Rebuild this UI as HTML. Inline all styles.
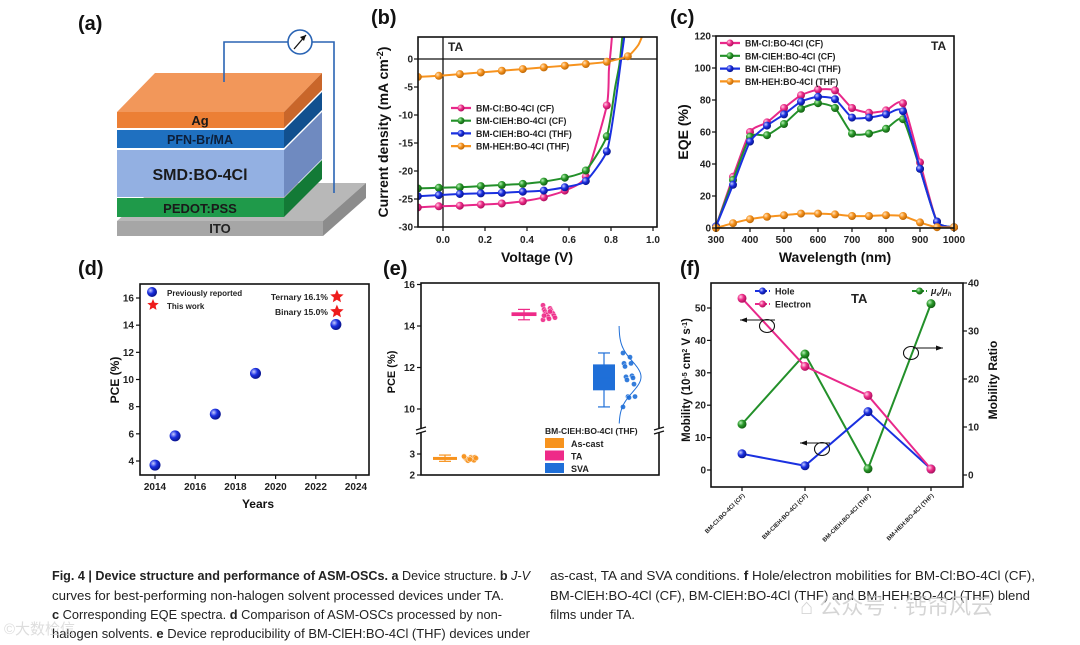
<!DOCTYPE html>
<html><head><meta charset="utf-8"><style>
html,body{margin:0;padding:0;background:#fff}
svg{display:block;font-family:"Liberation Sans","Noto Sans CJK SC",sans-serif}
.t{font-weight:bold;fill:#222}
.ax{font-weight:bold;fill:#111}
.pl{font-weight:bold;fill:#111}
.cap{font-size:12.6px;fill:#222;font-family:"Liberation Sans Narrow","Liberation Sans",sans-serif}
</style></head><body>
<svg id="fig" width="1080" height="645" viewBox="0 0 1080 645" xmlns="http://www.w3.org/2000/svg">
<defs>
<radialGradient id="g-pink" cx="35%" cy="35%" r="65%"><stop offset="0" stop-color="#ffd0e6"/><stop offset="0.5" stop-color="#ee2e8a"/><stop offset="1" stop-color="#b0105e"/></radialGradient>
<radialGradient id="g-green" cx="35%" cy="35%" r="65%"><stop offset="0" stop-color="#b8f0b8"/><stop offset="0.5" stop-color="#2a9a2a"/><stop offset="1" stop-color="#136013"/></radialGradient>
<radialGradient id="g-blue" cx="35%" cy="35%" r="65%"><stop offset="0" stop-color="#c8ccff"/><stop offset="0.5" stop-color="#1a2fe0"/><stop offset="1" stop-color="#0a1590"/></radialGradient>
<radialGradient id="g-orange" cx="35%" cy="35%" r="65%"><stop offset="0" stop-color="#ffe4bf"/><stop offset="0.5" stop-color="#f7931e"/><stop offset="1" stop-color="#c06a08"/></radialGradient>
</defs>

<!-- panel a -->
<g>
<text class="pl" font-size="20" x="78" y="30">(a)</text>
<polygon points="117,221 323,221 366,183 160,183" fill="#b8b8b8"/>
<polygon points="323,221 366,183 366,198 323,236" fill="#8c8c8c"/>
<rect x="117" y="221" width="206" height="15" fill="#a6a6a6"/>
<text x="220" y="233" text-anchor="middle" font-weight="bold" font-size="13" fill="#222">ITO</text>
<polygon points="284,198 322,160 322,179 284,217" fill="#137a36"/>
<rect x="117" y="198" width="167" height="19" fill="#1f9a4a"/>
<text x="200" y="213" text-anchor="middle" font-weight="bold" font-size="13" fill="#1a1a1a">PEDOT:PSS</text>
<polygon points="284,150 322,112 322,159 284,197" fill="#6f8ac0"/>
<rect x="117" y="150" width="167" height="47" fill="#93b0e2"/>
<text x="200" y="180" text-anchor="middle" font-weight="bold" font-size="16" fill="#1a1a1a">SMD:BO-4Cl</text>
<polygon points="284,130 322,92 322,110 284,148" fill="#11508f"/>
<rect x="117" y="130" width="167" height="18" fill="#1f70c0"/>
<text x="200" y="144" text-anchor="middle" font-weight="bold" font-size="12.5" fill="#0d1f3a">PFN-Br/MA</text>
<polygon points="117,112 284,112 322,73 155,73" fill="#f2975a"/>
<polygon points="284,112 322,73 322,90 284,128" fill="#c9662a"/>
<rect x="117" y="112" width="167" height="16" fill="#ec7f35"/>
<text x="200" y="125" text-anchor="middle" font-weight="bold" font-size="13" fill="#1a1a1a">Ag</text>
<polyline points="224,82 224,42 288,42" fill="none" stroke="#2a64b4" stroke-width="1.6"/>
<polyline points="312,42 334,42 334,193" fill="none" stroke="#2a64b4" stroke-width="1.6"/>
<circle cx="300" cy="42" r="12" fill="#fff" stroke="#2a64b4" stroke-width="1.6"/>
<line x1="294" y1="49" x2="306" y2="35" stroke="#111" stroke-width="1.3"/>
<polygon points="306,35 300,37 304,41" fill="#111"/>
</g>

<g id="pb"></g>
<g id="pc"></g>
<g id="pd"></g>
<g id="pe"></g>
<g id="pf"></g>

<g>
<text class="cap" x="52" y="580" textLength="478" lengthAdjust="spacingAndGlyphs"><tspan font-weight="bold">Fig. 4 | Device structure and performance of ASM-OSCs. a</tspan> Device structure. <tspan font-weight="bold">b</tspan> <tspan font-style="italic">J-V</tspan></text>
<text class="cap" x="52" y="600" textLength="452" lengthAdjust="spacingAndGlyphs">curves for best-performing non-halogen solvent processed devices under TA.</text>
<text class="cap" x="52" y="619" textLength="450" lengthAdjust="spacingAndGlyphs"><tspan font-weight="bold">c</tspan> Corresponding EQE spectra. <tspan font-weight="bold">d</tspan> Comparison of ASM-OSCs processed by non-</text>
<text class="cap" x="52" y="638" textLength="478" lengthAdjust="spacingAndGlyphs">halogen solvents. <tspan font-weight="bold">e</tspan> Device reproducibility of BM-ClEH:BO-4Cl (THF) devices under</text>
<text class="cap" x="550" y="580" textLength="485" lengthAdjust="spacingAndGlyphs">as-cast, TA and SVA conditions. <tspan font-weight="bold">f</tspan> Hole/electron mobilities for BM-Cl:BO-4Cl (CF),</text>
<text class="cap" x="550" y="600" textLength="480" lengthAdjust="spacingAndGlyphs">BM-ClEH:BO-4Cl (CF), BM-ClEH:BO-4Cl (THF) and BM-HEH:BO-4Cl (THF) blend</text>
<text class="cap" x="550" y="619" textLength="85" lengthAdjust="spacingAndGlyphs">films under TA.</text>
<text x="800" y="614" font-size="22" fill="#c8c8c8" opacity="0.75">⌂ 公众号 · 钙帘风云</text>
<text x="4" y="634" font-size="15" fill="#d0d0d0" opacity="0.7">©大数检信</text>
</g>
</svg>

<script>
var NS = 'http://www.w3.org/2000/svg';
function mk(tag, attrs, parent) {
  var e = document.createElementNS(NS, tag);
  for (var k in attrs) e.setAttribute(k, attrs[k]);
  if (parent) parent.appendChild(e);
  return e;
}
function lin(d0, d1, r0, r1) { return function (v) { return r0 + (v - d0) * (r1 - r0) / (d1 - d0); }; }
var COL = {pink: '#e8288a', green: '#23902a', blue: '#1a30e0', orange: '#f7931e'};

// ---------- panel b data ----------
var bVolt = [-0.12, -0.02, 0.08, 0.18, 0.28, 0.38, 0.48, 0.58, 0.68, 0.78];
var bPink = [-26.5, -26.3, -26.2, -26.0, -25.8, -25.4, -24.7, -23.5, -21.0, -8.3];
var bGreen = [-23.1, -23.0, -22.9, -22.7, -22.5, -22.3, -21.9, -21.2, -19.9, -13.8];
var bBlue = [-24.5, -24.3, -24.1, -24.0, -23.9, -23.7, -23.5, -22.9, -21.8, -16.5];
var bOrange = [-3.2, -3.0, -2.7, -2.4, -2.1, -1.8, -1.5, -1.2, -0.9, -0.5];
var bPinkTailV = [0.79, 0.80, 0.806], bPinkTailJ = [-2, 2, 4.7];
var bGreenTailV = [0.82, 0.84, 0.856], bGreenTailJ = [-5, -1, 4.7];
var bBlueTailV = [0.82, 0.845, 0.866], bBlueTailJ = [-8, -1, 4.7];
var bOrangeTailV = [0.88, 0.93, 0.955], bOrangeTailJ = [0.5, 2.5, 4.7];
var bXTicks = [0, 0.2, 0.4, 0.6, 0.8, 1.0];
var bXLabels = ['0.0', '0.2', '0.4', '0.6', '0.8', '1.0'];
var bYTicks = [0, -5, -10, -15, -20, -25, -30];
var bNames = ['BM-Cl:BO-4Cl (CF)', 'BM-ClEH:BO-4Cl (CF)', 'BM-ClEH:BO-4Cl (THF)', 'BM-HEH:BO-4Cl (THF)'];

// ---------- panel c data ----------
var cWave = [300, 350, 400, 450, 500, 550, 600, 650, 700, 750, 800, 850, 900, 950, 1000];
var cPink = [1, 32, 60, 66, 75, 83, 86.5, 86, 75, 72, 73.5, 78, 41, 4, 0.5];
var cGreen = [1, 30, 57, 58, 65, 74.5, 78, 75, 59, 59, 62, 68, 37, 4, 0.5];
var cBlue = [1, 27, 54, 64, 71, 79, 82, 80.5, 69, 69, 71, 73, 37, 4, 0.5];
var cOrange = [0, 3, 5.5, 7, 8, 9, 9, 8.5, 7.5, 7.5, 8, 7.5, 3.5, 0.5, 0.5];
var cXTicks = [300, 400, 500, 600, 700, 800, 900, 1000];
var cYTicks = [0, 20, 40, 60, 80, 100, 120];

// ---------- panel d data ----------
var dYears = [2014, 2015, 2017, 2019, 2023];
var dPCE = [3.7, 5.85, 7.45, 10.45, 14.05];
var dStarYears = [2023.05, 2023.05];
var dStarPCE = [16.1, 15.0];
var dStarLabels = ['Ternary 16.1%', 'Binary 15.0%'];
var dXTicks = [2014, 2016, 2018, 2020, 2022, 2024];
var dYTicks = [4, 6, 8, 10, 12, 14, 16];

// ---------- panel e data ----------
var eGroups = ['As-cast', 'TA', 'SVA'];
var eMin = [2.65, 14.3, 10.1];
var eQ1 = [2.74, 14.48, 10.9];
var eMed = [2.8, 14.55, 11.5];
var eQ3 = [2.86, 14.66, 12.15];
var eMax = [2.95, 14.8, 12.7];
var eAsCastPts = [2.9, 2.85, 2.82, 2.8, 2.78, 2.75, 2.72, 2.7, 2.68, 2.85, 2.76, 2.8, 2.74, 2.88];
var eTAPts = [15.0, 14.85, 14.8, 14.75, 14.7, 14.65, 14.6, 14.6, 14.55, 14.5, 14.45, 14.4, 14.35, 14.3, 14.7, 14.5];
var eSVAPts = [12.7, 12.5, 12.2, 12.2, 12.05, 11.6, 11.55, 11.5, 11.4, 11.2, 10.6, 10.6, 10.55, 10.1];
var eYTicksUp = [10, 12, 14, 16];
var eYTicksLow = [2, 3];

// ---------- panel f data ----------
var fCats = ['BM-Cl:BO-4Cl (CF)', 'BM-ClEH:BO-4Cl (CF)', 'BM-ClEH:BO-4Cl (THF)', 'BM-HEH:BO-4Cl (THF)'];
var fHole = [5, 1.3, 18, 0.3];
var fElectron = [53, 32, 23, 0.3];
var fRatio = [10.6, 25.2, 1.3, 35.7];
var fYTicksL = [0, 10, 20, 30, 40, 50];
var fYTicksR = [0, 10, 20, 30, 40];

var DEF_FS = {t: 10, ax: 13.5, pl: 20};
function txt(p, x, y, s, cls, anchor, extra) {
  cls = cls || 't';
  var t = mk('text', Object.assign({x: x, y: y, 'class': cls, 'text-anchor': anchor || 'start', 'font-size': DEF_FS[cls]}, extra || {}), p);
  t.textContent = s;
  return t;
}
function frame(p, x0, y0, x1, y1) {
  var r = mk('rect', {x: x0, y: y0, width: x1 - x0, height: y1 - y0, fill: 'none', stroke: '#111', 'stroke-width': 1.6}, p);
  
  
}
function marker(p, x, y, col, r) {
  var c = mk('circle', {cx: x, cy: y, r: r || 4, fill: 'url(#g-' + col + ')'}, p);
  
  
  return c;
}
function smoothPath(pts) {
  var k = 10;
  var d = 'M' + pts[0][0] + ',' + pts[0][1];
  for (var i = 0; i < pts.length - 1; i++) {
    var p0 = pts[i - 1] || pts[i], p1 = pts[i], p2 = pts[i + 1], p3 = pts[i + 2] || p2;
    var c1x = p1[0] + (p2[0] - p0[0]) / k, c1y = p1[1] + (p2[1] - p0[1]) / k;
    var c2x = p2[0] - (p3[0] - p1[0]) / k, c2y = p2[1] - (p3[1] - p1[1]) / k;
    d += ' C' + c1x + ',' + c1y + ' ' + c2x + ',' + c2y + ' ' + p2[0] + ',' + p2[1];
  }
  return d;
}
function yTick(p, x, y, label, xl, anchor) {
  var l = mk('line', {x1: x, y1: y, x2: x + (anchor === 'start' ? 4 : -4), y2: y, stroke: '#111', 'stroke-width': 1.2}, p);
  
  
  var t = txt(p, xl, y + 3.5, label, 't', anchor || 'end');
  
  
}
function xTick(p, x, y, label, yl) {
  var l = mk('line', {x1: x, y1: y, x2: x, y2: y + 4, stroke: '#111', 'stroke-width': 1.2}, p);
  
  
  var t = txt(p, x, yl, label, 't', 'middle');
  
  
}
function legendRow(p, x, y, col, label, fs) {
  var l = mk('line', {x1: x, y1: y, x2: x + 20, y2: y, stroke: COL[col], 'stroke-width': 2.2}, p);
  
  
  marker(p, x + 10, y, col, 3.5);
  var t = txt(p, x + 25, y + 3.5, label, 't', 'start', {'font-size': fs || 9});
  
  
}

// ===== panel b =====
(function () {
  var p = document.getElementById('pb');
  var X = lin(0, 1, 443, 653), Y = lin(0, -30, 59, 227);
  var x0 = 418, x1 = 657, y0 = 37, y1 = 227;
  var lab = txt(p, 371, 24, '(b)', 'pl');
  
  
  var clip = mk('clipPath', {id: 'clipb'}, p);
  mk('rect', {x: x0, y: y0, width: x1 - x0, height: y1 - y0}, clip);
  var zh = mk('line', {x1: x0, y1: Y(0), x2: x1, y2: Y(0), stroke: '#111', 'stroke-width': 1.3}, p);
  
  
  var zv = mk('line', {x1: X(0), y1: y0, x2: X(0), y2: y1, stroke: '#111', 'stroke-width': 1.3}, p);
  
  
  var series = [['pink', bPink, bPinkTailV, bPinkTailJ], ['green', bGreen, bGreenTailV, bGreenTailJ], ['blue', bBlue, bBlueTailV, bBlueTailJ], ['orange', bOrange, bOrangeTailV, bOrangeTailJ]];
  series.forEach(function (s) {
    var g = mk('g', {'clip-path': 'url(#clipb)'}, p);
    
    
    var pts = bVolt.map(function (v, i) { return [X(v), Y(s[1][i])]; });
    s[2].forEach(function (v, i) { pts.push([X(v), Y(s[3][i])]); });
    var path = mk('path', {d: smoothPath(pts), fill: 'none', stroke: COL[s[0]], 'stroke-width': 2}, g);
    
    
    bVolt.forEach(function (v, i) { marker(g, X(v), Y(s[1][i]), s[0]); });
    if (s[0] === 'orange') marker(g, X(s[2][0]), Y(s[3][0]), 'orange');
  });
  frame(p, x0, y0, x1, y1);
  bXTicks.forEach(function (v, i) { xTick(p, X(v), y1, bXLabels[i], 243); });
  bYTicks.forEach(function (v) { yTick(p, x0, Y(v), String(v), 413); });
  var ta = txt(p, 448, 51, 'TA', 't', 'start', {fill: '#e02020', 'font-size': 12});
  
  
  ['pink', 'green', 'blue', 'orange'].forEach(function (c, i) { legendRow(p, 451, 108 + i * 12.7, c, bNames[i], 8.8); });
  var xt = txt(p, 537, 262, 'Voltage (V)', 'ax', 'middle', {'font-size': 14});
  
  
  var yt = txt(p, 0, 0, 'Current density (mA cm', 'ax', 'middle', {transform: 'translate(388,132) rotate(-90)', 'font-size': 14});
  var sup = mk('tspan', {'baseline-shift': 'super', 'font-size': 9}, yt);
  sup.textContent = '-2';
  var cl = mk('tspan', {}, yt);
  cl.textContent = ')';
  
  
})();

// ===== panel c =====
(function () {
  var p = document.getElementById('pc');
  var X = lin(300, 1000, 716, 954), Y = lin(0, 120, 228, 36);
  var lab = txt(p, 670, 24, '(c)', 'pl');
  
  
  [['pink', cPink], ['green', cGreen], ['blue', cBlue], ['orange', cOrange]].forEach(function (s) {
    var g = mk('g', {}, p);
    
    
    var pts = cWave.map(function (w, i) { return [X(w), Y(s[1][i])]; });
    var path = mk('path', {d: smoothPath(pts), fill: 'none', stroke: COL[s[0]], 'stroke-width': 2}, g);
    
    
    cWave.forEach(function (w, i) { marker(g, X(w), Y(s[1][i]), s[0]); });
  });
  frame(p, 716, 36, 954, 228);
  cXTicks.forEach(function (v) { xTick(p, X(v), 228, String(v), 243); });
  cYTicks.forEach(function (v) { yTick(p, 716, Y(v), String(v), 711); });
  ['pink', 'green', 'blue', 'orange'].forEach(function (c, i) { legendRow(p, 720, 43 + i * 12.8, c, bNames[i], 8.8); });
  var ta = txt(p, 931, 50, 'TA', 't', 'start', {fill: '#e02020', 'font-size': 12});
  
  
  var xt = txt(p, 835, 262, 'Wavelength (nm)', 'ax', 'middle', {'font-size': 14});
  
  
  var yt = txt(p, 0, 0, 'EQE (%)', 'ax', 'middle', {transform: 'translate(688,132) rotate(-90)', 'font-size': 14});
  
  
})();

function star(p, cx, cy, r) {
  var pts = [];
  for (var i = 0; i < 10; i++) {
    var a = -Math.PI / 2 + i * Math.PI / 5, rr = i % 2 ? r * 0.45 : r;
    pts.push((cx + rr * Math.cos(a)).toFixed(1) + ',' + (cy + rr * Math.sin(a)).toFixed(1));
  }
  var s = mk('polygon', {points: pts.join(' '), fill: '#ee1c1c'}, p);
  
  
  return s;
}

// ===== panel d =====
(function () {
  var p = document.getElementById('pd');
  var X = lin(2014, 2024, 155, 356), Y = lin(4, 16, 461, 298);
  var lab = txt(p, 78, 275, '(d)', 'pl');
  
  
  frame(p, 140, 284, 369, 475);
  dXTicks.forEach(function (v) { xTick(p, X(v), 475, String(v), 490); });
  dYTicks.forEach(function (v) { yTick(p, 140, Y(v), String(v), 134); });
  dYears.forEach(function (yr, i) { marker(p, X(yr), Y(dPCE[i]), 'blue', 5.5); });
  dStarYears.forEach(function (yr, i) {
    star(p, X(yr), Y(dStarPCE[i]), 7);
    var t = txt(p, X(yr) - 9, Y(dStarPCE[i]) + 3.5, dStarLabels[i], 't', 'end', {'font-size': 8.5});
    
    
  });
  marker(p, 152, 292, 'blue', 5);
  var l1 = txt(p, 167, 296, 'Previously reported', 't', 'start', {'font-size': 8});
  
  
  star(p, 153, 305, 6);
  var l2 = txt(p, 167, 309, 'This work', 't', 'start', {'font-size': 8});
  
  
  var xt = txt(p, 258, 508, 'Years', 'ax', 'middle', {'font-size': 12});
  
  
  var yt = txt(p, 0, 0, 'PCE (%)', 'ax', 'middle', {transform: 'translate(119,380) rotate(-90)', 'font-size': 12});
  
  
})();

// ===== panel e =====
(function () {
  var p = document.getElementById('pe');
  function Y(v) { return v >= 6 ? 409 - (v - 10) * 20.75 : 475 - (v - 2) * 21; }
  var cx = [445, 524, 604], cols = ['orange', 'pink', 'blue'];
  var fills = ['#f7931e', '#ee2a88', '#1f6fd8'];
  var lab = txt(p, 383, 275, '(e)', 'pl');
  
  
  frame(p, 421, 283, 659, 475);
  eYTicksUp.forEach(function (v) { yTick(p, 421, Y(v), String(v), 415); });
  eYTicksLow.forEach(function (v) { yTick(p, 421, Y(v), String(v), 415); });
  [421, 659].forEach(function (x) {
    var bk = mk('g', {}, p);
    
    
    mk('rect', {x: x - 5, y: 428, width: 10, height: 5, fill: '#fff'}, bk);
    mk('line', {x1: x - 5, y1: 430, x2: x + 5, y2: 427, stroke: '#111', 'stroke-width': 1.3}, bk);
    mk('line', {x1: x - 5, y1: 434, x2: x + 5, y2: 431, stroke: '#111', 'stroke-width': 1.3}, bk);
  });
  var W = [24, 25, 22];
  eGroups.forEach(function (gname, i) {
    var g = mk('g', {}, p);
    
    
    var c = cx[i], w = W[i];
    mk('line', {x1: c, y1: Y(eMax[i]), x2: c, y2: Y(eMin[i]), stroke: fills[i], 'stroke-width': 1.2}, g);
    mk('line', {x1: c - 6, y1: Y(eMax[i]), x2: c + 6, y2: Y(eMax[i]), stroke: fills[i], 'stroke-width': 1.2}, g);
    mk('line', {x1: c - 6, y1: Y(eMin[i]), x2: c + 6, y2: Y(eMin[i]), stroke: fills[i], 'stroke-width': 1.2}, g);
    mk('rect', {x: c - w / 2, y: Y(eQ3[i]), width: w, height: Math.max(Y(eQ1[i]) - Y(eQ3[i]), 3), fill: fills[i]}, g);
    mk('line', {x1: c - w / 2, y1: Y(eMed[i]), x2: c + w / 2, y2: Y(eMed[i]), stroke: fills[i], 'stroke-width': 1}, g);
  });
  [eAsCastPts, eTAPts, eSVAPts].forEach(function (arr, i) {
    arr.forEach(function (v, k) {
      var jx = cx[i] + 19 + ((k * 7) % 13);
      var d = mk('circle', {cx: jx, cy: Y(v), r: 2.6, fill: fills[i], stroke: '#fff', 'stroke-width': 0.4, opacity: 0.9}, p);
      
      
    });
  });
  var mu = 11.55, sd = 0.75, pts = [];
  for (var v = 14.0; v >= 9.3; v -= 0.1) pts.push([cx[2] + 15 + 22 * Math.exp(-Math.pow((v - mu) / sd, 2) / 2), Y(v)]);
  var dc = mk('path', {d: smoothPath(pts), fill: 'none', stroke: '#1f6fd8', 'stroke-width': 1}, p);
  
  
  var lt = txt(p, 545, 434, 'BM-ClEH:BO-4Cl (THF)', 't', 'start', {'font-size': 8.5});
  
  
  eGroups.forEach(function (gname, i) {
    var r = mk('rect', {x: 545, y: 438 + i * 12.5, width: 19, height: 10, fill: fills[i]}, p);
    
    
    var t = txt(p, 571, 447 + i * 12.5, gname, 't', 'start', {'font-size': 9});
    
    
  });
  var yt = txt(p, 0, 0, 'PCE (%)', 'ax', 'middle', {transform: 'translate(395,372) rotate(-90)', 'font-size': 11});
  
  
})();

// ===== panel f =====
(function () {
  var p = document.getElementById('pf');
  var YL = lin(0, 50, 470, 308), YR = lin(0, 40, 475, 283);
  var X = function (i) { return 742 + i * 63; };
  var lab = txt(p, 680, 275, '(f)', 'pl');
  
  
  [['green', fRatio, YR], ['blue', fHole, YL], ['pink', fElectron, YL]].forEach(function (s) {
    var g = mk('g', {}, p);
    
    
    var pts = s[1].map(function (v, i) { return X(i) + ',' + s[2](v); }).join(' ');
    var pl = mk('polyline', {points: pts, fill: 'none', stroke: COL[s[0]], 'stroke-width': 2}, g);
    
    
    s[1].forEach(function (v, i) { marker(g, X(i), s[2](v), s[0], 4.5); });
  });
  frame(p, 711, 283, 963, 487);
  fYTicksL.forEach(function (v) { yTick(p, 711, YL(v), String(v), 706); });
  fYTicksR.forEach(function (v) { yTick(p, 963, YR(v), String(v), 968, 'start'); });
  fCats.forEach(function (c, i) {
    var l = mk('line', {x1: X(i), y1: 487, x2: X(i), y2: 491, stroke: '#111', 'stroke-width': 1.2}, p);
    
    
    var t = txt(p, 0, 0, c, 't', 'end', {'font-size': 6, transform: 'translate(' + (X(i) + 3) + ',496) rotate(-45)'});
    
    
  });
  [['blue', 'Hole', 755, 291], ['pink', 'Electron', 755, 304]].forEach(function (r) {
    var l = mk('line', {x1: r[2], y1: r[3], x2: r[2] + 15, y2: r[3], stroke: COL[r[0]], 'stroke-width': 2, 'stroke-dasharray': '5,2'}, p);
    
    
    marker(p, r[2] + 7.5, r[3], r[0], 3.5);
    var t = txt(p, r[2] + 20, r[3] + 3.5, r[1], 't', 'start', {'font-size': 9});
    
    
  });
  var gl = mk('line', {x1: 912, y1: 291, x2: 927, y2: 291, stroke: COL.green, 'stroke-width': 2, 'stroke-dasharray': '5,2'}, p);
  
  
  marker(p, 919.5, 291, 'green', 3.5);
  var rt = txt(p, 931, 294, 'μ', 't', 'start', {'font-size': 9, 'font-style': 'italic'});
  var s1 = mk('tspan', {'font-size': 6, dy: 2}, rt); s1.textContent = 'e';
  var s2 = mk('tspan', {dy: -2}, rt); s2.textContent = '/μ';
  var s3 = mk('tspan', {'font-size': 6, dy: 2}, rt); s3.textContent = 'h';
  
  
  var ta = txt(p, 851, 303, 'TA', 't', 'start', {fill: '#e02020', 'font-size': 13});
  
  
  [[767, 326, 775, 320, 740, -1], [822, 449, 830, 443, 800, -1], [911, 353, 913, 348, 943, 1]].forEach(function (a) {
    var g = mk('g', {}, p);
    
    
    mk('ellipse', {cx: a[0], cy: a[1], rx: 7.5, ry: 6.5, fill: 'none', stroke: '#111', 'stroke-width': 1.1}, g);
    mk('line', {x1: a[2], y1: a[3], x2: a[4], y2: a[3], stroke: '#111', 'stroke-width': 1.1}, g);
    mk('polygon', {points: a[4] + ',' + a[3] + ' ' + (a[4] - a[5] * 7) + ',' + (a[3] - 2.5) + ' ' + (a[4] - a[5] * 7) + ',' + (a[3] + 2.5), fill: '#111'}, g);
  });
  var yt = txt(p, 0, 0, 'Mobility (10', 'ax', 'middle', {transform: 'translate(690,380) rotate(-90)', 'font-size': 11.5});
  var a1 = mk('tspan', {'baseline-shift': 'super', 'font-size': 7}, yt); a1.textContent = '-5';
  var a2 = mk('tspan', {}, yt); a2.textContent = ' cm';
  var a3 = mk('tspan', {'baseline-shift': 'super', 'font-size': 7}, yt); a3.textContent = '2';
  var a4 = mk('tspan', {}, yt); a4.textContent = ' V s';
  var a5 = mk('tspan', {'baseline-shift': 'super', 'font-size': 7}, yt); a5.textContent = '-1';
  var a6 = mk('tspan', {}, yt); a6.textContent = ')';
  
  
  var yr = txt(p, 0, 0, 'Mobility Ratio', 'ax', 'middle', {transform: 'translate(997,380) rotate(-90)', 'font-size': 12});
  
  
})();
</script>
</body></html>
